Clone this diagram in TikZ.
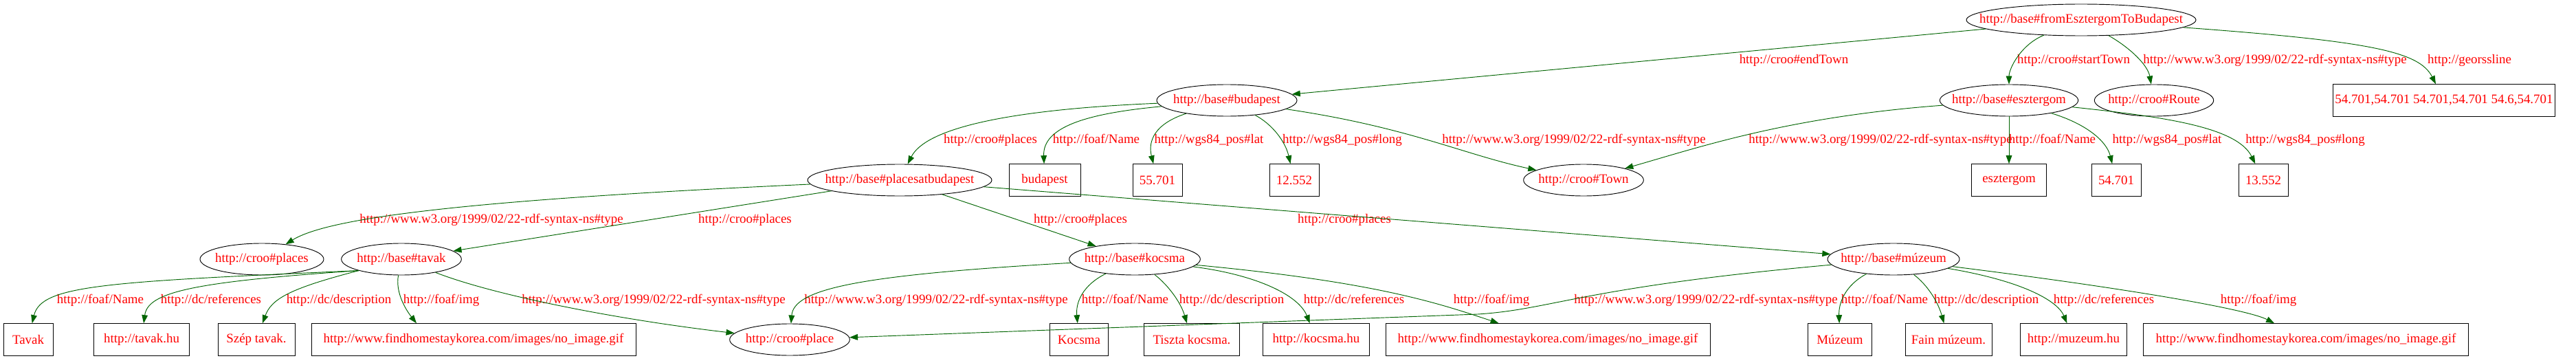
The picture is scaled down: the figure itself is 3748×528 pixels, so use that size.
\documentclass[tikz,border=0pt]{standalone}
\usepackage{fontspec}
\setmainfont{Liberation Serif}
\usetikzlibrary{shapes.geometric, arrows.meta}

\definecolor{edgegreen}{RGB}{0,100,0}

\tikzset{
  nolen/.style={execute at begin node={\hbox to 0pt\bgroup\hss}, execute at end node={\hss\egroup}},
  res/.style={ellipse, draw, line width=0.7pt, nolen, inner sep=0pt, minimum height=34.5pt, minimum width=#1},
  lit/.style={rectangle, draw, line width=0.7pt, nolen, inner sep=0pt, minimum height=35pt, minimum width=#1},
  rel/.style={draw=edgegreen, line width=0.7pt, -{Triangle[length=9pt,width=6.5pt]}},
  lbl/.style={inner sep=0pt},
}

\begin{document}
\begin{tikzpicture}[x=0.75pt, y=-0.75pt, every node/.style={text=red, font=\fontsize{14.2}{17}\selectfont}]

\useasboundingbox (0,0) rectangle (3748,528);

% resources
\node[res=250.5pt] (trip) at (3028,29) {http://base\#fromEsztergomToBudapest};

\node[res=153pt] (bud) at (1785,146) {http://base\#budapest};
\node[res=151pt] (esz) at (2923,146) {http://base\#esztergom};
\node[res=130pt] (route) at (3134,146) {http://croo\#Route};

\node[res=201pt] (pab) at (1309,262) {http://base\#placesatbudapest};
\node[res=131pt] (town) at (2304,262) {http://croo\#Town};

\node[res=135pt] (places) at (381,377) {http://croo\#places};
\node[res=131pt] (tavak) at (584,377) {http://base\#tavak};
\node[res=143pt] (kocsma) at (1651,377) {http://base\#kocsma};
\node[res=144pt] (muzeum) at (2755,377) {http://base\#múzeum};

\node[res=131pt] (place) at (1149,494) {http://croo\#place};

% literals
\node[lit=242pt] (geo) at (3556,146) {54.701,54.701 54.701,54.701 54.6,54.701};

\node[lit=78pt] (budname) at (1520,262) {budapest};
\node[lit=54pt] (budlat) at (1684,262) {55.701};
\node[lit=54pt] (budlong) at (1883,262) {12.552};
\node[lit=82pt] (eszname) at (2923,262) {esztergom};
\node[lit=54pt] (eszlat) at (3079,262) {54.701};
\node[lit=54pt] (eszlong) at (3293,262) {13.552};

\node[lit=54pt] (tavname) at (41,494) {Tavak};
\node[lit=104pt] (tavref) at (206,494) {http://tavak.hu};
\node[lit=84pt] (tavdesc) at (373,494) {Szép tavak.};
\node[lit=354pt] (tavimg) at (689,494) {http://www.findhomestaykorea.com/images/no\_image.gif};
\node[lit=64pt] (kocname) at (1570,494) {Kocsma};
\node[lit=104pt] (kocdesc) at (1734,494) {Tiszta kocsma.};
\node[lit=116pt] (kocref) at (1915,494) {http://kocsma.hu};
\node[lit=354pt] (kocimg) at (2252,494) {http://www.findhomestaykorea.com/images/no\_image.gif};
\node[lit=70pt] (muzname) at (2677,494) {Múzeum};
\node[lit=94.5pt] (muzdesc) at (2835,494) {Fain múzeum.};
\node[lit=116pt] (muzref) at (3017,494) {http://muzeum.hu};
\node[lit=355pt] (muzimg) at (3355,494) {http://www.findhomestaykorea.com/images/no\_image.gif};

% edge labels
\node[lbl] (l-trip-bud) at (2610,88) {http://croo\#endTown};
\node[lbl] (l-trip-esz) at (3017,88) {http://croo\#startTown};
\node[lbl] (l-trip-route) at (3310,88) {http://www.w3.org/1999/02/22-rdf-syntax-ns\#type};
\node[lbl] (l-trip-geo) at (3593,88) {http://georssline};

\node[lbl] (l-bud-pab) at (1441,204) {http://croo\#places};
\node[lbl] (l-bud-name) at (1595,204) {http://foaf/Name};
\node[lbl] (l-bud-lat) at (1759,204) {http://wgs84\_pos\#lat};
\node[lbl] (l-bud-long) at (1953,204) {http://wgs84\_pos\#long};
\node[lbl] (l-bud-town) at (2290,204) {http://www.w3.org/1999/02/22-rdf-syntax-ns\#type};
\node[lbl] (l-esz-town) at (2736,204) {http://www.w3.org/1999/02/22-rdf-syntax-ns\#type};
\node[lbl] (l-esz-name) at (2986,204) {http://foaf/Name};
\node[lbl] (l-esz-lat) at (3153,204) {http://wgs84\_pos\#lat};
\node[lbl] (l-esz-long) at (3354,204) {http://wgs84\_pos\#long};

\node[lbl] (l-pab-places) at (715,320) {http://www.w3.org/1999/02/22-rdf-syntax-ns\#type};
\node[lbl] (l-pab-tavak) at (1084,320) {http://croo\#places};
\node[lbl] (l-pab-kocsma) at (1572,320) {http://croo\#places};
\node[lbl] (l-pab-muzeum) at (1956,320) {http://croo\#places};

\node[lbl] (l-tav-name) at (146,437) {http://foaf/Name};
\node[lbl] (l-tav-ref) at (307,437) {http://dc/references};
\node[lbl] (l-tav-desc) at (493,437) {http://dc/description};
\node[lbl] (l-tav-img) at (642,437) {http://foaf/img};
\node[lbl] (l-tav-place) at (951,437) {http://www.w3.org/1999/02/22-rdf-syntax-ns\#type};
\node[lbl] (l-koc-place) at (1362,437) {http://www.w3.org/1999/02/22-rdf-syntax-ns\#type};
\node[lbl] (l-koc-name) at (1637,437) {http://foaf/Name};
\node[lbl] (l-koc-desc) at (1792,437) {http://dc/description};
\node[lbl] (l-koc-ref) at (1970,437) {http://dc/references};
\node[lbl] (l-koc-img) at (2170,437) {http://foaf/img};
\node[lbl] (l-muz-place) at (2482,437) {http://www.w3.org/1999/02/22-rdf-syntax-ns\#type};
\node[lbl] (l-muz-name) at (2742,437) {http://foaf/Name};
\node[lbl] (l-muz-desc) at (2890,437) {http://dc/description};
\node[lbl] (l-muz-ref) at (3061,437) {http://dc/references};
\node[lbl] (l-muz-img) at (3286,437) {http://foaf/img};

% edges
\draw[rel] (trip) -- (bud);
\draw[rel] (trip) .. controls (2940,65) and (2923,100) .. (esz);
\draw[rel] (trip) .. controls (3100,70) and (3125,95) .. (route);
\draw[rel] (trip) .. controls (3450,60) and (3520,75) .. (geo);

\draw[rel] (bud) .. controls (1450,160) and (1345,190) .. (pab);
\draw[rel] (bud) .. controls (1580,165) and (1517,185) .. (budname);
\draw[rel] (bud) .. controls (1680,180) and (1670,205) .. (budlat);
\draw[rel] (bud) .. controls (1850,180) and (1870,205) .. (budlong);
\draw[rel] (bud) .. controls (2050,185) and (2130,225) .. (town);

\draw[rel] (esz) .. controls (2600,170) and (2470,215) .. (town);
\draw[rel] (esz) -- (eszname);
\draw[rel] (esz) .. controls (3035,180) and (3065,205) .. (eszlat);
\draw[rel] (esz) .. controls (3150,170) and (3255,185) .. (eszlong);

\draw[rel] (pab) .. controls (700,290) and (480,315) .. (places);
\draw[rel] (pab) -- (tavak);
\draw[rel] (pab) -- (kocsma);
\draw[rel] (pab) -- (muzeum);

\draw[rel] (tavak.south west) .. controls (150,410) and (60,415) .. (tavname);
\draw[rel] (tavak.south west) .. controls (280,410) and (215,425) .. (tavref);
\draw[rel] (tavak.south west) .. controls (420,420) and (395,435) .. (tavdesc);
\draw[rel] (tavak) .. controls (575,425) and (590,450) .. (tavimg.164);
\draw[rel] (tavak) .. controls (720,430) and (900,465) .. (place);

\draw[rel] (kocsma) .. controls (1250,400) and (1155,420) .. (place);
\draw[rel] (kocsma) .. controls (1575,415) and (1565,440) .. (kocname);
\draw[rel] (kocsma) .. controls (1700,415) and (1718,440) .. (kocdesc);
\draw[rel] (kocsma) .. controls (1830,400) and (1890,430) .. (kocref);
\draw[rel] (kocsma) .. controls (2000,410) and (2090,440) .. (kocimg);

\coordinate (mz1) at (2150,457);
\draw[rel] (muzeum) .. controls (2300,418) and (2260,450) .. (mz1) -- (place);
\draw[rel] (muzeum) .. controls (2685,415) and (2675,440) .. (muzname);
\draw[rel] (muzeum) .. controls (2805,415) and (2820,440) .. (muzdesc);
\draw[rel] (muzeum) .. controls (2950,410) and (2995,440) .. (muzref);
\draw[rel] (muzeum) .. controls (3100,420) and (3270,450) .. (muzimg);

\end{tikzpicture}
\end{document}
